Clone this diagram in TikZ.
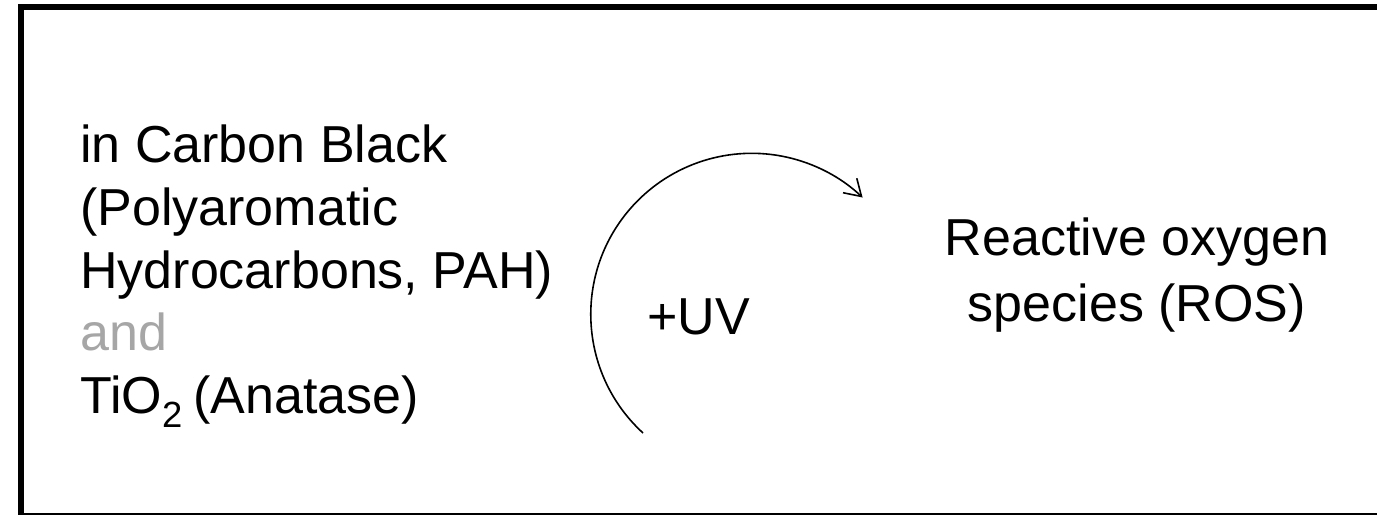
\documentclass[tikz,border=0pt]{standalone}
\usepackage{fontspec}
\setmainfont{Liberation Sans}
\usetikzlibrary{arrows.meta}
\definecolor{andgray}{HTML}{A6A6A6}

\begin{document}
\begin{tikzpicture}[x=0.75pt,y=0.75pt,>/.tip={Straight Barb[length=12pt,width=15pt]},
	txt/.style={inner sep=0pt,font=\fontsize{39}{47}\selectfont}]
	\useasboundingbox (0,0) rectangle (1377,514);
	\clip (0,0) rectangle (1377,514);
	\draw[line width=4.5pt] (21,-2) rectangle (1381,507);
	\draw (80,389) node (src) [txt,anchor=north west,align=left] {in Carbon Black\\(Polyaromatic\\Hydrocarbons, PAH)\\\textcolor{andgray}{and}\\TiO\textsubscript{2}\hspace{0.2em}(Anatase)};
	\draw (1137,296) node (ros) [txt,anchor=north,align=center,font=\fontsize{39}{49}\selectfont] {Reactive oxygen\\species (ROS)};
	\draw (647,179) node (uv) [txt,anchor=base west] {+UV};
	\coordinate (arcstart) at (643,81);
	\draw[->,line width=1.2pt] (arcstart) arc[start angle=227.5,end angle=46.5,radius=161];
\end{tikzpicture}
\end{document}
